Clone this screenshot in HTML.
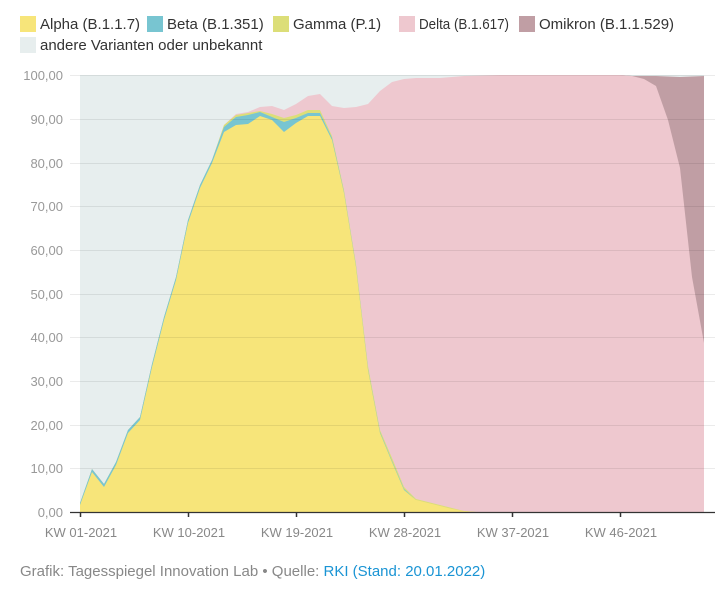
<!DOCTYPE html>
<html><head><meta charset="utf-8"><style>
html,body{margin:0;padding:0;background:#fff;width:724px;height:590px;overflow:hidden}
svg{display:block;font-family:"Liberation Sans",sans-serif}
</style></head><body>
<svg width="724" height="590" viewBox="0 0 724 590">
<g font-size="15" fill="#333">
<rect x="20" y="16" width="16" height="16" fill="#f7e57a"/><text x="40" y="29">Alpha (B.1.1.7)</text>
<rect x="147" y="16" width="16" height="16" fill="#78c5d1"/><text x="167" y="29">Beta (B.1.351)</text>
<rect x="273" y="16" width="16" height="16" fill="#dcde78"/><text x="293" y="29">Gamma (P.1)</text>
<rect x="399" y="16" width="16" height="16" fill="#eec8cf"/><text x="419" y="29" textLength="90" lengthAdjust="spacingAndGlyphs">Delta (B.1.617)</text>
<rect x="519" y="16" width="16" height="16" fill="#c09ea4"/><text x="539" y="29">Omikron (B.1.1.529)</text>
<rect x="20" y="37" width="16" height="16" fill="#e7eeee"/><text x="40" y="50">andere Varianten oder unbekannt</text>
</g>
<rect x="80" y="75" width="624" height="437" fill="#e7eeee"/>
<polygon fill="#c09ea4" points="620,75 632,76 656,76 680,77 704,76 704,512 620,512"/>
<polygon fill="#eec8cf" points="80,505 92,469 104,484 116,462 128,430 140,417 152,364 164,317 176,277 188,220 200,185 212,160 224,125 236,114 248,112 260,107 272,106 284,110 296,104 308,96 320,94 332,106 344,108 356,107 368,104 380,91 392,82 404,79 416,78 440,78 464,76 500,75 620,75 632,76 644,79 656,86 668,120 680,168 692,277 704,343 704,512 80,512"/>
<polygon fill="#dcde78" points="80,503 92,469 104,484 116,462 128,430 140,417 152,364 164,317 176,277 188,220 200,185 212,160 224,125 236,115 248,113 260,111 272,114 284,118 296,115 308,110 320,110 332,136 344,190 356,264 368,366 380,430 392,458 404,487 416,499 428,502 440,505 452,508 464,511 476,512 80,512"/>
<polygon fill="#78c5d1" points="80,503 92,469 104,484 116,462 128,430 140,417 152,364 164,317 176,277 188,220 200,185 212,160 224,127 236,117 248,115 260,112 272,117 284,122 296,118 308,113 320,113 332,138 344,192 356,266 368,369 380,432 392,461 404,489 416,500 80,512"/>
<polygon fill="#f7e57a" points="80,505 92,472 104,487 116,465 128,433 140,420 152,367 164,320 176,280 188,223 200,188 212,163 224,132 236,125 248,124 260,116 272,120 284,132 296,123 308,116 320,116 332,140 344,193 356,267 368,370 380,433 392,462 404,490 416,500 428,503 440,506 452,509 464,511 476,512 80,512"/>
<g stroke="#000" stroke-opacity="0.08" stroke-width="1">
<line x1="70" x2="715" y1="75.5" y2="75.5"/><line x1="70" x2="715" y1="119.5" y2="119.5"/>
<line x1="70" x2="715" y1="163.5" y2="163.5"/><line x1="70" x2="715" y1="206.5" y2="206.5"/>
<line x1="70" x2="715" y1="250.5" y2="250.5"/><line x1="70" x2="715" y1="294.5" y2="294.5"/>
<line x1="70" x2="715" y1="337.5" y2="337.5"/><line x1="70" x2="715" y1="381.5" y2="381.5"/>
<line x1="70" x2="715" y1="425.5" y2="425.5"/><line x1="70" x2="715" y1="468.5" y2="468.5"/>
</g>
<g font-size="13" fill="#999" text-anchor="end">
<text x="63" y="80">100,00</text><text x="63" y="124">90,00</text><text x="63" y="168">80,00</text>
<text x="63" y="211">70,00</text><text x="63" y="255">60,00</text><text x="63" y="299">50,00</text>
<text x="63" y="342">40,00</text><text x="63" y="386">30,00</text><text x="63" y="430">20,00</text>
<text x="63" y="473">10,00</text><text x="63" y="517">0,00</text>
</g>
<line x1="70" x2="715" y1="512.5" y2="512.5" stroke="#333" stroke-width="1.2"/>
<g stroke="#333" stroke-width="1.5">
<line x1="80.5" x2="80.5" y1="512" y2="517"/><line x1="188.5" x2="188.5" y1="512" y2="517"/>
<line x1="296.5" x2="296.5" y1="512" y2="517"/><line x1="404.5" x2="404.5" y1="512" y2="517"/>
<line x1="512.5" x2="512.5" y1="512" y2="517"/><line x1="620.5" x2="620.5" y1="512" y2="517"/>
</g>
<g font-size="13" fill="#888" text-anchor="middle">
<text x="81" y="537">KW 01-2021</text><text x="189" y="537">KW 10-2021</text>
<text x="297" y="537">KW 19-2021</text><text x="405" y="537">KW 28-2021</text>
<text x="513" y="537">KW 37-2021</text><text x="621" y="537">KW 46-2021</text>
</g>
<text x="20" y="576" font-size="15" fill="#888">Grafik: Tagesspiegel Innovation Lab • Quelle: <tspan fill="#1a94d4">RKI (Stand: 20.01.2022)</tspan></text>
</svg>
</body></html>
